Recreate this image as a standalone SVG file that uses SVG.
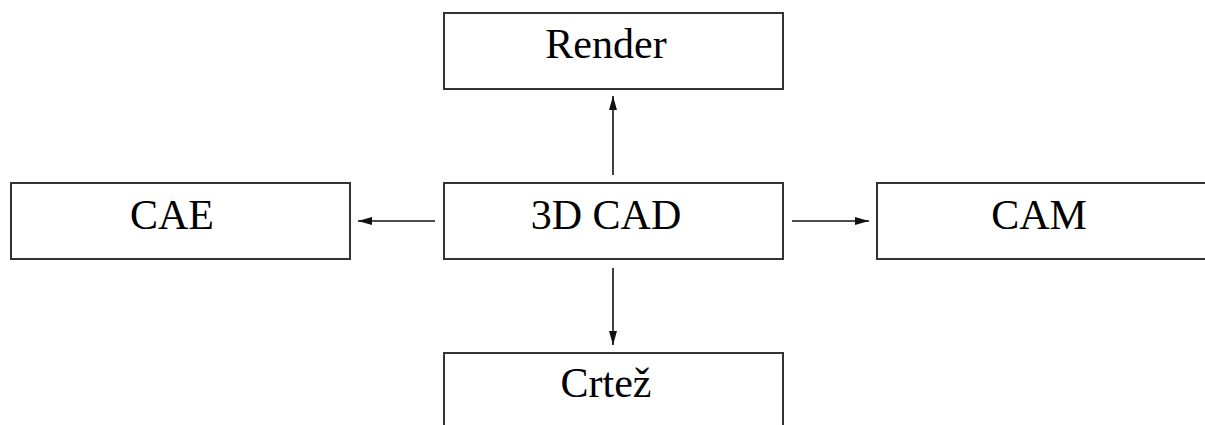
<svg xmlns="http://www.w3.org/2000/svg" width="1205" height="425" viewBox="0 0 1205 425">
<style>
.box{fill:#fff;stroke:#333;stroke-width:2}
.lbl{font-family:"Liberation Serif","Times New Roman",serif;font-size:42px;fill:#000;text-anchor:middle}
.edge{stroke:#111;stroke-width:1.6;fill:none;marker-end:url(#ah)}
</style>
<defs>
<marker id="ah" markerWidth="14" markerHeight="8" refX="14" refY="4" orient="auto" markerUnits="userSpaceOnUse">
<path d="M0,0 L14,4 L0,8 Z" fill="#111"/>
</marker>
</defs>
<rect width="1205" height="425" fill="#fff"/>
<g id="render"><rect class="box" x="444" y="13" width="339" height="76"/><text class="lbl" x="606" y="58">Render</text></g>
<g id="cad"><rect class="box" x="444" y="183" width="339" height="76"/><text class="lbl" x="606" y="229">3D CAD</text></g>
<g id="cae"><rect class="box" x="11" y="183" width="339" height="76"/><text class="lbl" x="172" y="229">CAE</text></g>
<g id="cam"><rect class="box" x="877" y="183" width="339" height="76"/><text class="lbl" x="1039" y="229">CAM</text></g>
<g id="crtez"><rect class="box" x="444" y="353" width="339" height="76"/><text class="lbl" x="606" y="397">Crtež</text></g>
<g id="connectors">
<line class="edge" x1="613" y1="175" x2="613" y2="96"/>
<line class="edge" x1="435" y1="221" x2="358" y2="221"/>
<line class="edge" x1="792" y1="221" x2="869" y2="221"/>
<line class="edge" x1="613" y1="268" x2="613" y2="345"/>
</g>
</svg>
